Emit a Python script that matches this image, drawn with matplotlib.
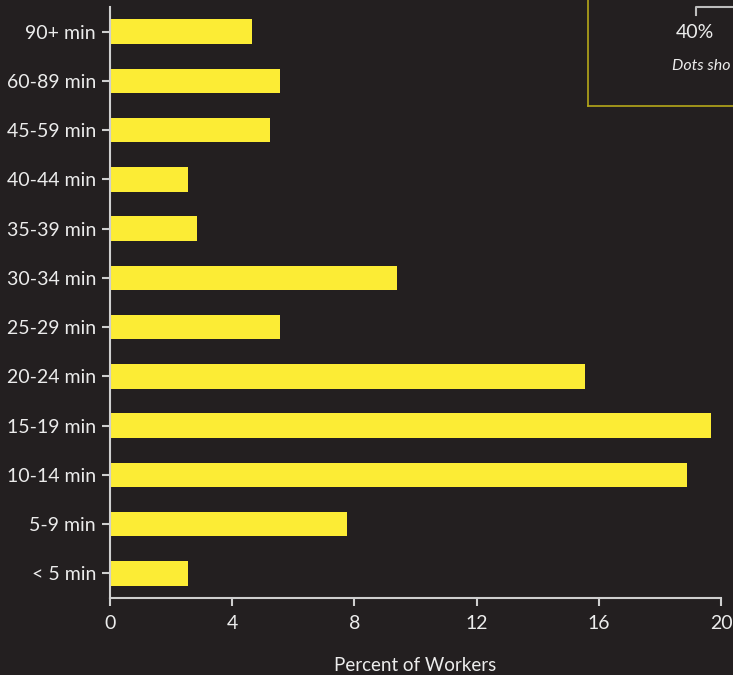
import numpy as np
from matplotlib import pyplot as plt
import matplotlib
from matplotlib.lines import Line2D

# data
categories = ['< 5 min', '5-9 min', '10-14 min', '15-19 min', '20-24 min', '25-29 min',
              '30-34 min', '35-39 min', '40-44 min', '45-59 min', '60-89 min', '90+ min']
percent = [2.55, 7.76, 18.89, 19.67, 15.55, 5.56, 9.39, 2.85, 2.55, 5.24, 5.56, 4.65]
xticks = [0, 4, 8, 12, 16, 20]

bg = '#231f20'
bar_color = '#fcec35'
text_color = '#ececec'
axis_color = '#cfcfcf'

matplotlib.rc('font', family=['Lato', 'DejaVu Sans'])

fig = plt.figure(figsize=(7.33, 6.75), dpi=100)
fig.patch.set_facecolor(bg)
ax = fig.add_axes([110 / 733, 1 - 598 / 675, 611 / 733, 591 / 675])
ax.set_facecolor(bg)

y = np.arange(len(categories))
ax.barh(y, percent, height=0.5, color=bar_color)

ax.set_xlim(0, 20)
ax.set_ylim(-0.5, 11.5)
ax.set_yticks(y)
ax.set_yticklabels(categories)
ax.set_xticks(xticks)
ax.set_xticklabels([str(t) for t in xticks])

for side in ['top', 'right']:
    ax.spines[side].set_visible(False)
for side in ['left', 'bottom']:
    ax.spines[side].set_color(axis_color)
    ax.spines[side].set_linewidth(1.5)

ax.tick_params(axis='both', colors=axis_color, labelcolor=text_color,
               labelsize=14, length=6, width=1.5)
ax.tick_params(axis='y', pad=4)
ax.tick_params(axis='x', pad=6)
ax.set_xlabel('Percent of Workers', color=text_color, fontsize=13.5, labelpad=18)

# legend box in the corner (cut off by figure edge, as in the original)
box_color = '#b5a719'
fig.add_artist(Line2D([588 / 733, 588 / 733], [1, 1 - 106 / 675], color=box_color, lw=1.2))
fig.add_artist(Line2D([588 / 733, 1], [1 - 106 / 675, 1 - 106 / 675], color=box_color, lw=1.2))
fig.add_artist(Line2D([696 / 733, 696 / 733, 1], [1 - 15 / 675, 1 - 7 / 675, 1 - 7 / 675],
                      color='#bdbdbd', lw=1.5))
fig.text(695 / 733, 1 - 33 / 675, '40%', color=text_color, fontsize=14,
         ha='center', va='center')
fig.text(672 / 733, 1 - 66 / 675, 'Dots sho', color=text_color, fontsize=11.5,
         style='italic', ha='left', va='center')

plt.savefig('out.png', dpi=100, facecolor=bg)
plt.close()
